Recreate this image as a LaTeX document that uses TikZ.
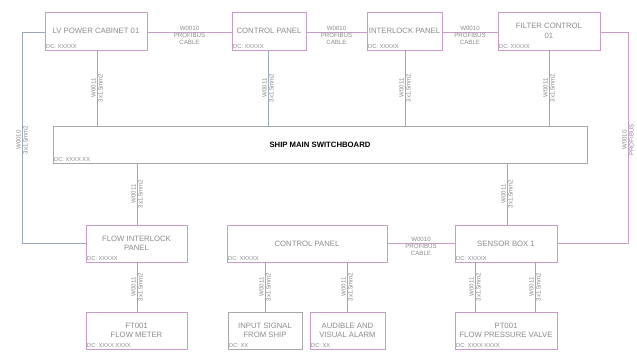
\documentclass[tikz,border=0pt]{standalone}
\usepackage{fontspec}
\setmainfont{Liberation Sans}
\definecolor{boxc}{HTML}{C89CC8}
\definecolor{grayc}{HTML}{A8A8A8}
\definecolor{linec}{HTML}{9AA8BC}
\definecolor{txtc}{HTML}{8A8A8A}
\tikzset{
  box/.style={draw=boxc, line width=0.7pt, inner sep=0pt, align=center, text=txtc,
    font=\fontsize{5.8}{7.2}\selectfont},
  gbox/.style={box, draw=grayc},
  sublbl/.style={anchor=south west, inner sep=1pt, text=txtc, font=\fontsize{4.3}{5}\selectfont},
  vcable/.style={draw=linec, line width=0.7pt},
  hcable/.style={draw=boxc, line width=0.7pt},
  clbl/.style={text=txtc, font=\fontsize{4.6}{5.4}\selectfont, inner sep=0.6pt, align=center},
  vlbl/.style={clbl, rotate=90},
}
\newcommand\bx[8]{%
  \node[#1, minimum width={(#5-#3)*0.75pt}, minimum height={(#6-#4)*0.75pt}]
    (#2) at ({(#3+#5)/2},{(#4+#6)/2}) {#7};
  \node[sublbl] (#2sub) at (#2.south west) {#8};
}
\begin{document}
\begin{tikzpicture}[x=0.75pt,y=-0.75pt]
\useasboundingbox (0,0) rectangle (637,352);
% boxes
\bx{box}{lv}{45}{12}{147}{50}{LV POWER CABINET 01}{DC: XXXXX}
\bx{box}{cpa}{232}{12}{306}{50}{CONTROL PANEL}{DC: XXXXX}
\bx{box}{il}{367}{12}{442}{50}{INTERLOCK PANEL}{DC: XXXXX}
\bx{box}{fc}{498}{12}{600}{50}{FILTER CONTROL\\01}{DC: XXXXX}
\bx{gbox}{sw}{53}{126}{587}{163}{\textcolor{black}{\bfseries SHIP MAIN SWITCHBOARD}}{DC: XXXX XX}
\bx{box}{fi}{86}{225}{187}{262}{FLOW INTERLOCK\\PANEL}{DC: XXXXX}
\bx{box}{ft}{86}{312}{187}{349}{FT001\\FLOW METER}{DC: XXXX XXXX}
\bx{box}{cpb}{227}{225}{387}{262}{CONTROL PANEL}{DC: XXXXX}
\bx{gbox}{is}{228}{312}{302}{349}{INPUT SIGNAL\\FROM SHIP}{DC: XX}
\bx{box}{av}{310}{312}{385}{349}{AUDIBLE AND\\VISUAL ALARM}{DC: XX}
\bx{box}{sb}{455}{225}{557}{262}{SENSOR BOX 1}{DC: XXXXX}
\bx{box}{pt}{455}{312}{557}{349}{PT001\\FLOW PRESSURE VALVE}{DC: XXXX XXXX}
% x positions
\coordinate (x97) at (97,0);
\coordinate (x268) at (268,0);
\coordinate (x405) at (405,0);
\coordinate (x549) at (549,0);
\coordinate (x137) at (137,0);
\coordinate (x507) at (507,0);
\coordinate (x265) at (265,0);
\coordinate (x347) at (347,0);
\coordinate (x475) at (475,0);
\coordinate (x535) at (535,0);
\coordinate (y32) at (0,32);
\coordinate (y243) at (0,243);
\coordinate (lc) at (22,32);
\coordinate (rc) at (628,32);
% vertical cables
\foreach \xx/\a/\b in {x97/lv/sw, x268/cpa/sw, x405/il/sw, x549/fc/sw,
    x137/sw/fi, x507/sw/sb, x137/fi/ft, x265/cpb/is, x347/cpb/av, x475/sb/pt, x535/sb/pt}{
  \draw[vcable] (\a.south -| \xx) -- (\b.north -| \xx)
    node[midway, vlbl] {W0011\\3x1.5mm2};
}
% horizontal cables
\draw[hcable] (lv.east |- y32) -- (cpa.west |- y32)
  node[midway, clbl, above] {W0010} node[midway, clbl, below] {PROFIBUS\\CABLE};
\draw[hcable] (cpa.east |- y32) -- (il.west |- y32)
  node[midway, clbl, above] {W0010} node[midway, clbl, below] {PROFIBUS\\CABLE};
\draw[hcable] (il.east |- y32) -- (fc.west |- y32)
  node[midway, clbl, above] {W0010} node[midway, clbl, below] {PROFIBUS\\CABLE};
\draw[hcable] (cpb.east |- y243) -- (sb.west |- y243)
  node[midway, clbl, above] {W0010} node[midway, clbl, below] {PROFIBUS\\CABLE};
% long side cables
\draw[vcable] (lv.west |- y32) -- (lc) -- (lc |- y243) -- (fi.west |- y243);
\node[vlbl] (lcl) at (22,140) {W0010\\3x1.5mm2};
\draw[hcable] (fc.east |- y32) -- (rc) -- (rc |- y243) -- (sb.east |- y243);
\node[vlbl] (rcl) at (628,140) {W0010\\PROFIBUS};
\end{tikzpicture}
\end{document}
